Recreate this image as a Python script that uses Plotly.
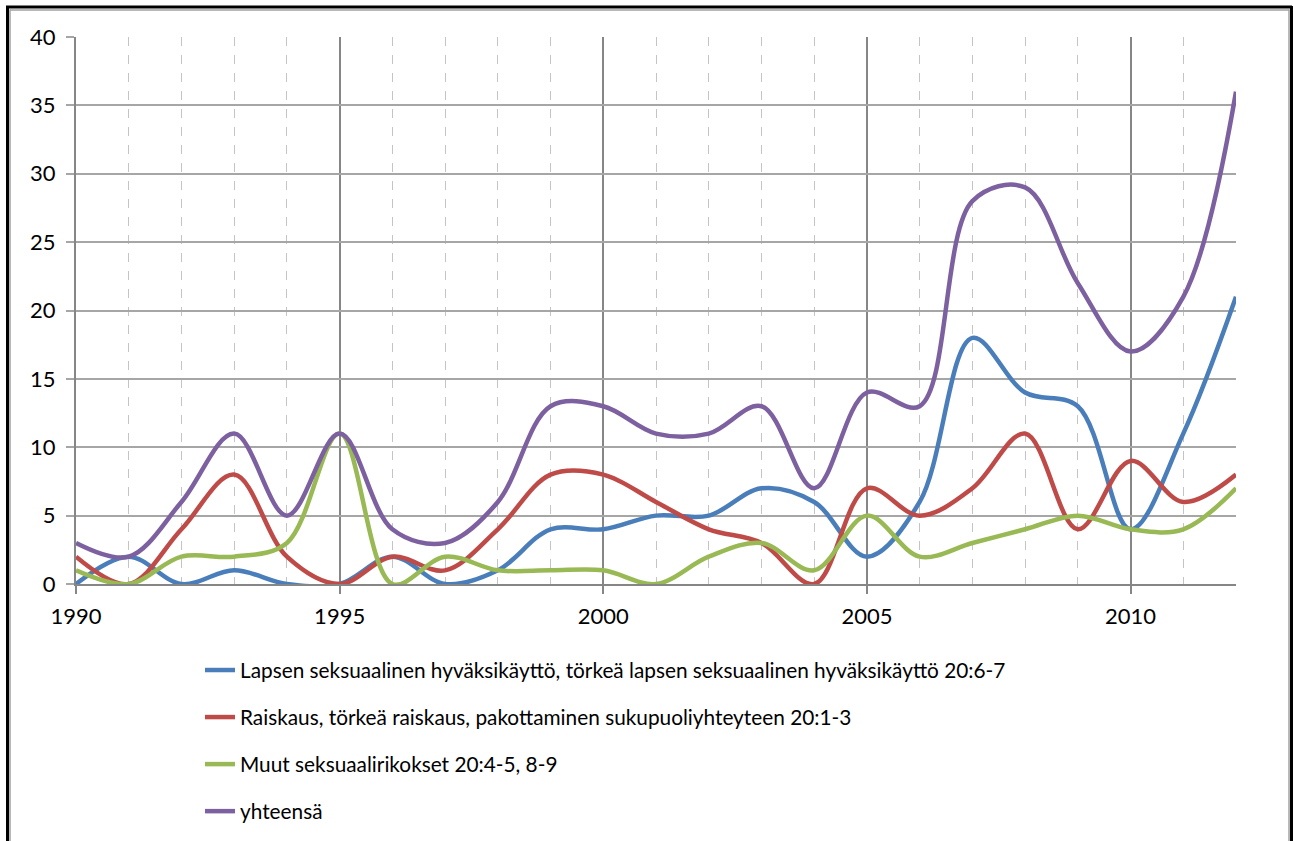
import plotly.graph_objects as go

years = list(range(1990, 2013))
lapsen = [0, 2, 0, 1, 0, 0, 2, 0, 1, 4, 4, 5, 5, 7, 6, 2, 6, 18, 14, 13, 4, 11, 21]
raiskaus = [2, 0, 4, 8, 2, 0, 2, 1, 4, 8, 8, 6, 4, 3, 0, 7, 5, 7, 11, 4, 9, 6, 8]
muut = [1, 0, 2, 2, 3, 11, 0, 2, 1, 1, 1, 0, 2, 3, 1, 5, 2, 3, 4, 5, 4, 4, 7]
yhteensa = [3, 2, 6, 11, 5, 11, 4, 3, 6, 13, 13, 11, 11, 13, 7, 14, 13, 28, 29, 22, 17, 21, 36]

names = [
    "Lapsen seksuaalinen hyväksikäyttö, törkeä lapsen seksuaalinen hyväksikäyttö 20:6-7",
    "Raiskaus, törkeä raiskaus, pakottaminen sukupuoliyhteyteen 20:1-3",
    "Muut seksuaalirikokset 20:4-5, 8-9",
    "yhteensä",
]
series = [lapsen, raiskaus, muut, yhteensa]
colors = ["#4A7EBB", "#BE4B48", "#98B954", "#7D60A0"]

W, H = 1293, 841
L, R, T, B = 76, 1236, 37, 584


def px(x):
    return (x - L) / (R - L)


def py(y):
    return (B - y) / (B - T)


fig = go.Figure()
for i, (n, s, c) in enumerate(zip(names, series, colors)):
    fig.add_trace(go.Scatter(
        x=years, y=s, name=n, mode="lines",
        line=dict(color=c, width=4.5, shape="spline", smoothing=1.0),
        legendgroup=f"g{i}",
    ))

font = "Lato, 'Open Sans', sans-serif"

shapes = [
    # outer black frame
    dict(type="line", xref="paper", yref="paper", x0=px(7.5), x1=px(7.5), y0=py(6), y1=py(860),
         line=dict(color="black", width=3)),
    dict(type="line", xref="paper", yref="paper", x0=px(6), x1=px(1292), y0=py(7), y1=py(7),
         line=dict(color="black", width=3)),
    dict(type="line", xref="paper", yref="paper", x0=px(1291.5), x1=px(1291.5), y0=py(6), y1=py(860),
         line=dict(color="black", width=3)),
    # inner gray frame
    dict(type="line", xref="paper", yref="paper", x0=px(10), x1=px(10), y0=py(9.5), y1=py(860),
         line=dict(color="#a0a0a0", width=1.5)),
    dict(type="line", xref="paper", yref="paper", x0=px(10), x1=px(1289.5), y0=py(10), y1=py(10),
         line=dict(color="#a0a0a0", width=1.5)),
    dict(type="line", xref="paper", yref="paper", x0=px(1289), x1=px(1289), y0=py(9.5), y1=py(860),
         line=dict(color="#a0a0a0", width=1.5)),
]

fig.update_layout(
    width=W, height=H,
    margin=dict(l=L, r=W - R, t=T, b=H - B, autoexpand=False),
    paper_bgcolor="white", plot_bgcolor="white",
    font=dict(family=font, size=22, color="black"),
    showlegend=True,
    legend=dict(
        x=px(200), xanchor="left", y=py(650), yanchor="top",
        orientation="v", tracegroupgap=17,
        font=dict(family=font, size=20.8, color="black"),
        bgcolor="rgba(0,0,0,0)",
    ),
    shapes=shapes,
    xaxis=dict(
        range=[1990, 2012], tickvals=[1990, 1995, 2000, 2005, 2010],
        showgrid=True, gridcolor="#868686", gridwidth=2,
        showline=True, linecolor="#868686", linewidth=2,
        ticks="outside", ticklen=8, tickcolor="#868686", tickwidth=2,
        ticklabelstandoff=4,
        tickfont=dict(family=font, size=22, color="black"),
        minor=dict(dtick=1, tick0=1990, showgrid=True, gridcolor="#c4c4c4", gridwidth=1, griddash="dash"),
        zeroline=False, fixedrange=True, automargin=False,
    ),
    yaxis=dict(
        range=[0, 40], dtick=5,
        showgrid=True, gridcolor="#a6a6a6", gridwidth=1.5,
        showline=True, linecolor="#868686", linewidth=2,
        ticks="outside", ticklen=8, tickcolor="#a6a6a6", tickwidth=1.5,
        ticklabelstandoff=6,
        tickfont=dict(family=font, size=22, color="black"),
        zeroline=False, fixedrange=True, automargin=False,
    ),
)

fig.write_html(
    "out.html",
    config={"displayModeBar": False},
    post_script="document.body.style.margin='0px';document.body.style.overflow='hidden';",
)
